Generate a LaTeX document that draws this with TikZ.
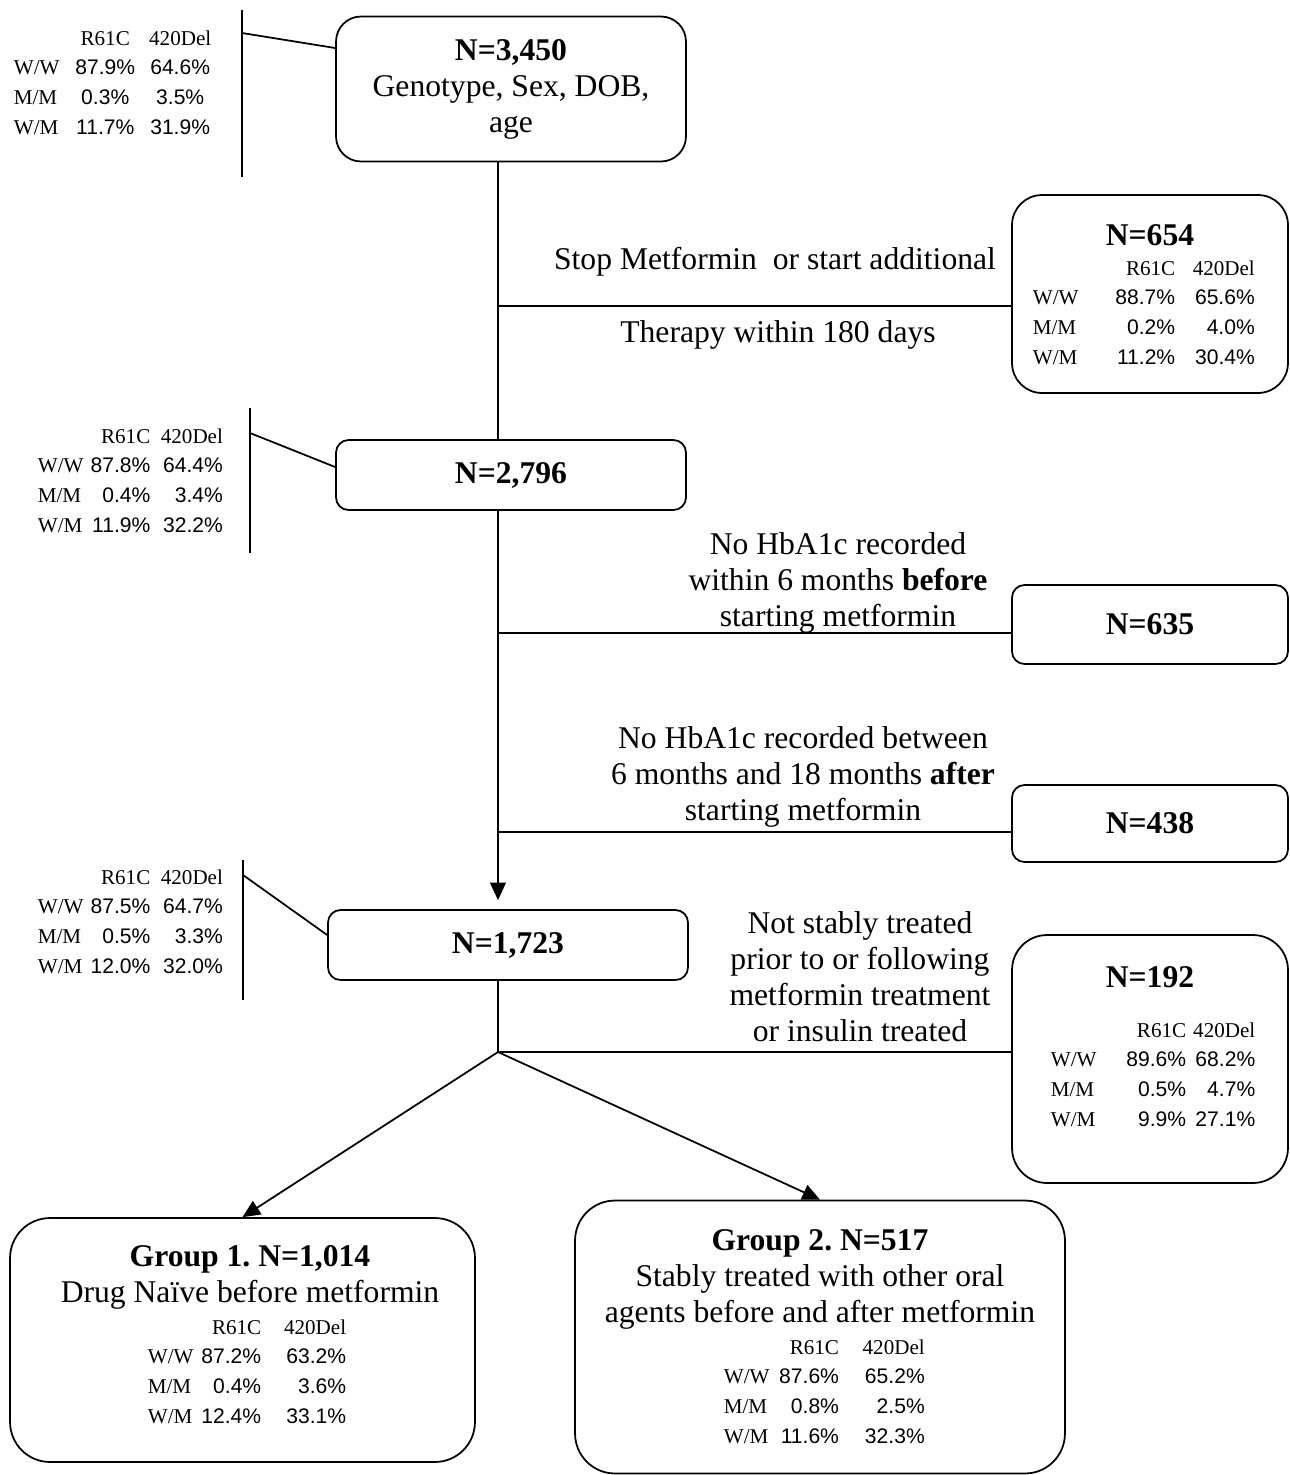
\documentclass[tikz,border=0pt]{standalone}
\usepackage{fontspec}
\setmainfont{Liberation Serif}
\newfontfamily\arialfont{Liberation Sans}
\usetikzlibrary{arrows.meta}
\frenchspacing
\newcommand{\pc}[1]{{\arialfont #1\%}}
\newcommand{\bigtxt}{\fontsize{18}{20.5}\selectfont}
\begin{document}
\begin{tikzpicture}[x=0.02cm, y=-0.02cm, line width=1pt, line join=round,
  >={Stealth[inset=0pt,length=10pt,width=9pt]},
  box/.style={draw, rounded corners=#1, inner sep=0pt, align=center, font=\bigtxt},
  box/.default=0.25cm,
  txt/.style={align=center, font=\bigtxt, inner sep=0pt},
  tab/.style={font=\fontsize{12}{17}\selectfont, inner sep=0pt}]
\useasboundingbox (0,0) rectangle (1289,1475);
% boxes
\node[box=0.5cm, minimum width=7cm, minimum height=2.9cm] (n3450) at (511,89) {\textbf{N=3,450}\\Genotype, Sex, DOB,\\age};
\node[box, minimum width=7cm, minimum height=1.4cm] (n2796) at (511,475) {\textbf{N=2,796}};
\node[box, minimum width=7.2cm, minimum height=1.4cm] (n1723) at (508,945) {\textbf{N=1,723}};
\node[box=0.6cm, minimum width=5.52cm, minimum height=3.96cm] (n654) at (1150,294) {};
\node[box, minimum width=5.52cm, minimum height=1.58cm] (n635) at (1150,624.5) {\textbf{N=635}};
\node[box, minimum width=5.52cm, minimum height=1.54cm] (n438) at (1150,823.5) {\textbf{N=438}};
\node[box=0.7cm, minimum width=5.52cm, minimum height=4.96cm] (n192) at (1150,1059) {};
\node[box=0.8cm, minimum width=9.3cm, minimum height=4.88cm] (g1) at (242.5,1340) {};
\node[box=0.8cm, minimum width=9.8cm, minimum height=5.46cm] (g2) at (820,1337) {};
% texts in the boxes
\node[txt] (n654t) at (1150,235) {\textbf{N=654}};
\node[txt] (n192t) at (1150,977) {\textbf{N=192}};
\node[txt] (g1t) at (250,1277) {\textbf{Group 1. N=1,014}\\Drug Naïve before metformin};
\node[txt] (g2t) at (820,1279) {\textbf{Group 2. N=517}\\Stably treated with other oral\\agents before and after metformin};
% genotype tables
\node[tab, anchor=base west] (tab3450) at (13,45) {\begin{tabular}[t]{@{}l@{\hspace{9pt}}c@{\hspace{8pt}}c@{}}
 & R61C & 420Del\\ W/W & \pc{87.9} & \pc{64.6}\\ M/M & \pc{0.3} & \pc{3.5}\\ W/M & \pc{11.7} & \pc{31.9}\end{tabular}};
\node[tab, anchor=base west] (tab2796) at (37,443) {\begin{tabular}[t]{@{}l@{\hspace{4pt}}r@{\hspace{6pt}}r@{}}
 & R61C & 420Del\\ W/W & \pc{87.8} & \pc{64.4}\\ M/M & \pc{0.4} & \pc{3.4}\\ W/M & \pc{11.9} & \pc{32.2}\end{tabular}};
\node[tab, anchor=base west] (tab1723) at (37,884) {\begin{tabular}[t]{@{}l@{\hspace{4pt}}r@{\hspace{6pt}}r@{}}
 & R61C & 420Del\\ W/W & \pc{87.5} & \pc{64.7}\\ M/M & \pc{0.5} & \pc{3.3}\\ W/M & \pc{12.0} & \pc{32.0}\end{tabular}};
\node[tab, anchor=base west] (tab654) at (1032,275) {\begin{tabular}[t]{@{}l@{\hspace{21pt}}r@{\hspace{10pt}}r@{}}
 & R61C & 420Del\\ W/W & \pc{88.7} & \pc{65.6}\\ M/M & \pc{0.2} & \pc{4.0}\\ W/M & \pc{11.2} & \pc{30.4}\end{tabular}};
\node[tab, anchor=base west] (tab192) at (1050,1037) {\begin{tabular}[t]{@{}l@{\hspace{17pt}}r@{\hspace{4pt}}r@{}}
 & R61C & 420Del\\ W/W & \pc{89.6} & \pc{68.2}\\ M/M & \pc{0.5} & \pc{4.7}\\ W/M & \pc{9.9} & \pc{27.1}\end{tabular}};
\node[tab, anchor=base west] (tabg1) at (147,1334) {\begin{tabular}[t]{@{}l@{\hspace{4.5pt}}r@{\hspace{13pt}}r@{}}
 & R61C & 420Del\\ W/W & \pc{87.2} & \pc{63.2}\\ M/M & \pc{0.4} & \pc{3.6}\\ W/M & \pc{12.4} & \pc{33.1}\end{tabular}};
\node[tab, anchor=base west] (tabg2) at (723,1354) {\begin{tabular}[t]{@{}l@{\hspace{5.5pt}}r@{\hspace{13.5pt}}r@{}}
 & R61C & 420Del\\ W/W & \pc{87.6} & \pc{65.2}\\ M/M & \pc{0.8} & \pc{2.5}\\ W/M & \pc{11.6} & \pc{32.3}\end{tabular}};
% exclusion texts
\node[txt] (why1a) at (775,262) {Stop Metformin\ \ or start additional};
\node[txt] (why1b) at (778,335) {Therapy within 180 days};
\node[txt] (why2) at (838,583) {No HbA1c recorded\\within 6 months \textbf{before}\\starting metformin};
\node[txt] (why3) at (803,777) {No HbA1c recorded between\\6 months and 18 months \textbf{after}\\starting metformin};
\node[txt] (why4) at (860,977) {Not stably treated\\prior to or following\\metformin treatment\\or insulin treated};
% flow
\coordinate (j1) at (498,306);
\coordinate (j2) at (498,633);
\coordinate (j3) at (498,832);
\coordinate (j4) at (498,1052);
\draw (n3450.south -| j1) -- (n2796.north -| j1);
\draw (j1) -- (j1 -| n654.west);
\draw[->, shorten >=0.18cm] (n2796.south -| j2) -- (n1723.north -| j2);
\draw (j2) -- (j2 -| n635.west);
\draw (j3) -- (j3 -| n438.west);
\draw (n1723.south -| j4) -- (j4) -- (j4 -| n192.west);
\draw[->] (j4) -- (g1.north);
\draw[->] (j4) -- (g2.north);
% table brackets
\coordinate (t1) at (242,33);
\coordinate (t2) at (250,433);
\coordinate (t3) at (243,875);
\draw (242,10) -- (242,177);
\draw (250,408) -- (250,553);
\draw (243,860) -- (243,1000);
\draw (t1) -- (n3450.west |- 0,48);
\draw (t2) -- (n2796.west |- 0,467);
\draw (t3) -- (n1723.west |- 0,935);
\end{tikzpicture}
\end{document}
